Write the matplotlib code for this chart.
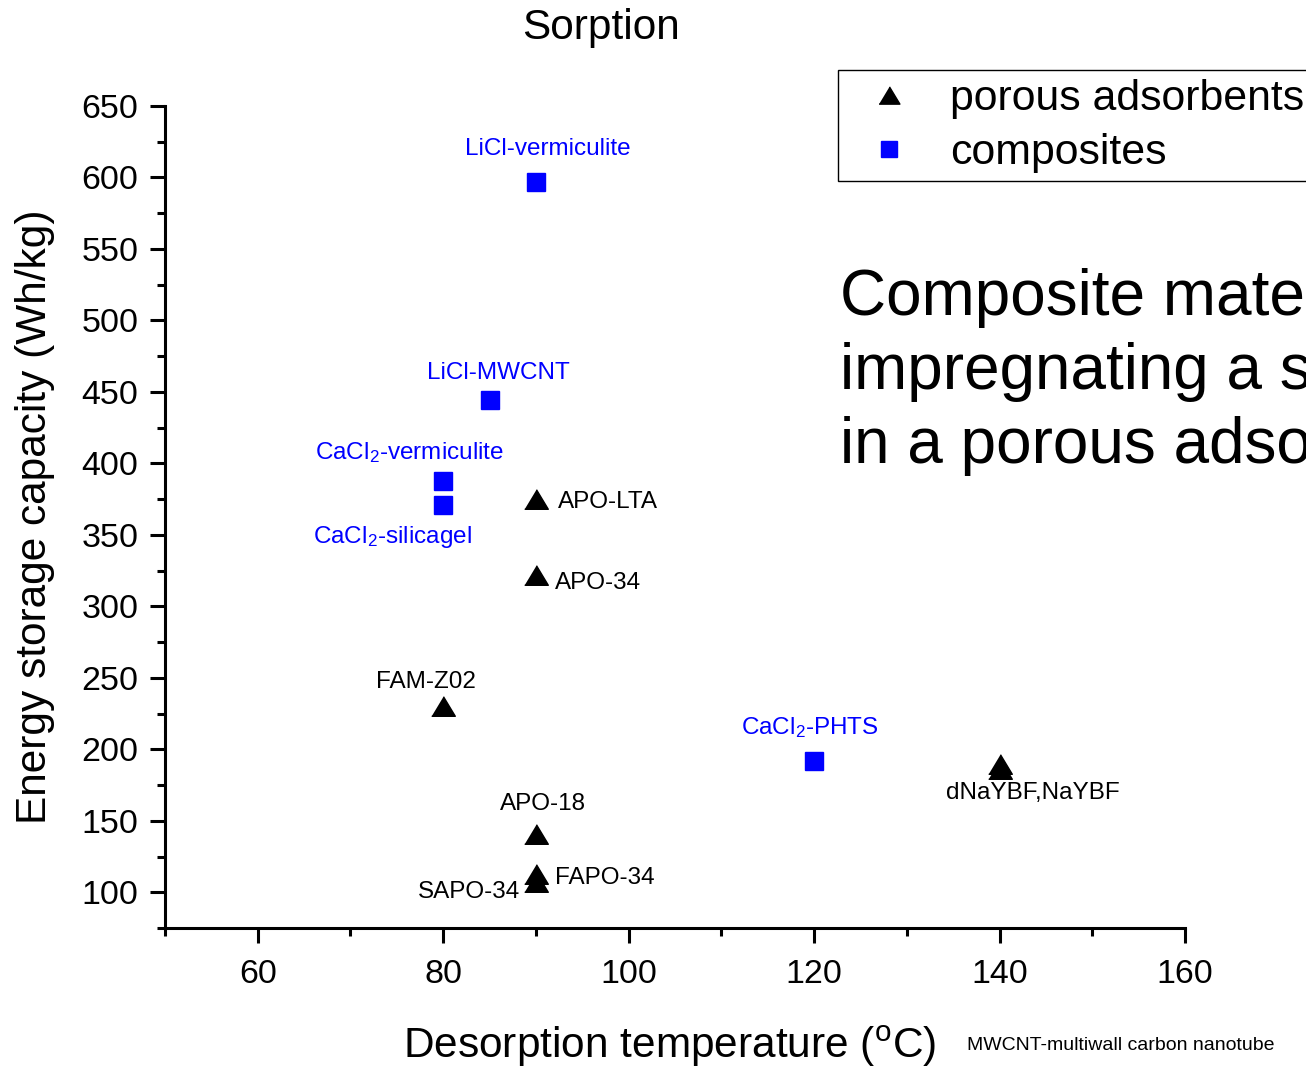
import matplotlib
matplotlib.use("Agg")
import matplotlib.pyplot as plt
from matplotlib.lines import Line2D

plt.rcParams['font.family'] = ['Liberation Sans', 'DejaVu Sans']
plt.rcParams['mathtext.fontset'] = 'custom'
plt.rcParams['mathtext.rm'] = 'Liberation Sans'
plt.rcParams['mathtext.it'] = 'Liberation Sans:italic'

# porous adsorbents (black triangles)
porous_names = ["APO-LTA", "APO-34", "FAM-Z02", "APO-18", "FAPO-34", "SAPO-34", "dNaYBF,NaYBF", ""]
porous_temp = [90, 90, 80, 90, 90, 90, 140, 140]
porous_cap = [375, 322, 230, 141, 113, 107, 190, 186]

# composites (blue squares)
comp_names = ["LiCl-vermiculite", "LiCl-MWCNT", r"CaCl$_2$-vermiculite", r"CaCl$_2$-silicagel", r"CaCl$_2$-PHTS"]
comp_temp = [90, 85, 80, 80, 120]
comp_cap = [597, 444, 388, 371, 192]

# label offsets in pixels (dx, dy, ha)
porous_off = [(22, -3, 'left'), (19, -8, 'left'), (-17, 24, 'center'), (7, 30, 'center'),
              (19, -4, 'left'), (-16, -10, 'right'), (33, -29, 'center'), (0, 0, 'center')]
comp_off = [(12, 33, 'center'), (9, 27, 'center'), (-34, 28, 'center'), (-51, -32, 'center'), (-4, 33, 'center')]

tri = [(-1, -0.83), (1, -0.83), (0, 0.83)]

fig = plt.figure(figsize=(13.06, 10.68), dpi=100)
ax = fig.add_axes([165 / 1306, 1 - 928 / 1068, (1185 - 165) / 1306, (928 - 106) / 1068])

ax.plot(porous_temp, porous_cap, linestyle='none', marker=tri, markersize=17, color='black')
ax.plot(comp_temp, comp_cap, linestyle='none', marker='s', markersize=13, color='#0000ff')

for name, x, y, off in zip(porous_names, porous_temp, porous_cap, porous_off):
    if name:
        ax.annotate(name, (x, y), xytext=(off[0], off[1]), textcoords='offset pixels',
                    ha=off[2], va='center', fontsize=17.5, color='black')
for name, x, y, off in zip(comp_names, comp_temp, comp_cap, comp_off):
    ax.annotate(name, (x, y), xytext=(off[0], off[1]), textcoords='offset pixels',
                ha=off[2], va='center', fontsize=17.5, color='#0000ff')

ax.set_xlim(50, 160)
ax.set_ylim(75, 650)
ax.set_xticks([60, 80, 100, 120, 140, 160])
ax.set_xticks([50, 70, 90, 110, 130, 150], minor=True)
ax.set_yticks(range(100, 651, 50))
ax.set_yticks(range(75, 651, 25), minor=True)

for s in ['top', 'right']:
    ax.spines[s].set_visible(False)
for s in ['left', 'bottom']:
    ax.spines[s].set_linewidth(2.2)

ax.tick_params(which='major', direction='out', length=11, width=2.2, labelsize=24.5)
ax.tick_params(which='minor', direction='out', length=5.5, width=2.2)
ax.tick_params(axis='x', which='major', pad=11.5)
ax.tick_params(axis='y', which='major', pad=8)

ax.set_xlabel(r'Desorption temperature ($^{\rm o}$C)', fontsize=30.5, labelpad=24.5)
ax.xaxis.label.set_x(0.495)
ax.set_ylabel('Energy storage capacity (Wh/kg)', fontsize=30.5, labelpad=19)

fig.text(601 / 1306, 1 - 28 / 1068, 'Sorption', fontsize=30.5, ha='center', va='center')
fig.text(967 / 1306, 1 - 1045 / 1068, 'MWCNT-multiwall carbon nanotube', fontsize=14, ha='left', va='center')
fig.text(840 / 1306, 1 - 268 / 1068,
         'Composite materials are made by\nimpregnating a salt\nin a porous adsorbent',
         fontsize=46, ha='left', va='top', linespacing=1.3)

handles = [Line2D([], [], linestyle='none', marker=tri, markersize=15, color='black'),
           Line2D([], [], linestyle='none', marker='s', markersize=11, color='#0000ff')]
leg = fig.legend(handles, ['porous adsorbents', 'composites'], loc='upper left',
                 bbox_to_anchor=(838 / 1306, 1 - 70 / 1068), borderaxespad=0, fontsize=30.8,
                 frameon=True, fancybox=False, framealpha=1, edgecolor='black',
                 borderpad=0.2, handlelength=2.0, handletextpad=0.42, labelspacing=0.33)
leg.get_frame().set_linewidth(1.0)

fig.savefig('out.png', dpi=100)
